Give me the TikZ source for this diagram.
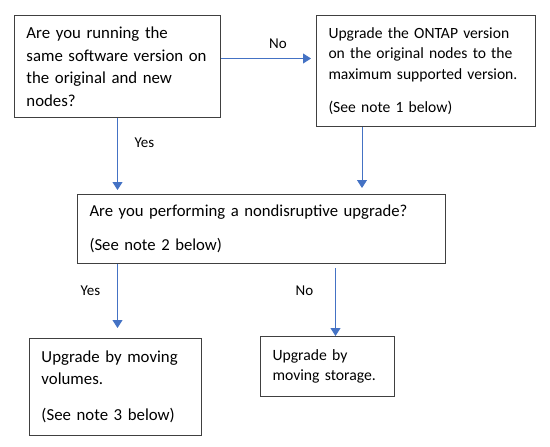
\documentclass[tikz,border=0pt]{standalone}
\usepackage{fontspec}
\setmainfont{Carlito}
\usetikzlibrary{arrows.meta, positioning}
\definecolor{flowblue}{HTML}{4472C4}
\definecolor{boxgray}{HTML}{404040}

\begin{document}
\begin{tikzpicture}[x=1pt, y=-1pt,
  box/.style={draw=boxgray, line width=1pt, rectangle, anchor=north west, align=left,
    inner xsep=12pt, inner ysep=0pt},
  flow/.style={draw=flowblue, line width=0.9pt, -{Triangle[width=10pt, length=8pt]}},
  lbl/.style={font=\fontsize{15}{18}\selectfont}]
\useasboundingbox (0,0) rectangle (550,447);

% Nodes
\node[box, text width=182pt, minimum height=102pt, font=\fontsize{16.8}{22.5}\selectfont] (Q1) at (14,15)
  {Are you running the\\ same software version on\\ the original and new\\ nodes?};
\node[box, text width=195pt, minimum height=111pt, font=\fontsize{15.6}{20.5}\selectfont] (U1) at (316,15)
  {Upgrade the ONTAP version\\ on the original nodes to the\\ maximum supported version.\\[13pt] (See note 1 below)};
\node[box, text width=344pt, minimum height=69pt, font=\fontsize{16.7}{21.5}\selectfont] (Q2) at (77,194)
  {Are you performing a nondisruptive upgrade?\\[13pt] (See note 2 below)};
\node[box, text width=148pt, minimum height=97pt, font=\fontsize{16.8}{22}\selectfont] (U2) at (29,338)
  {Upgrade by moving\\ volumes.\\[14pt] (See note 3 below)};
\node[box, text width=110pt, minimum height=60pt, font=\fontsize{15.7}{20}\selectfont] (U3) at (260,336)
  {Upgrade by\\ moving storage.};

% Connectors
\draw[flow, shorten >=5pt] ([yshift=8pt]Q1.east) -- ([yshift=8pt]Q1.east -| U1.west)
  node[lbl, pos=0.6, yshift=15pt] {No};
\draw[flow, shorten >=4pt] (Q1.south) -- (Q1.south |- Q2.north)
  node[lbl, pos=0.33, xshift=27pt] {Yes};
\draw[flow, shorten >=6pt] ([xshift=-64pt]U1.south) -- ([xshift=-64pt]U1.south |- Q2.north);
\draw[flow, shorten >=10pt] ([xshift=2pt]U2.north |- Q2.south) -- ([xshift=2pt]U2.north)
  node[lbl, pos=0.36, xshift=-27pt] {Yes};
\draw[flow, shorten <=4pt] ([xshift=8pt]U3.north |- Q2.south) -- ([xshift=8pt]U3.north)
  node[lbl, pos=0.37, xshift=-31pt] {No};

\end{tikzpicture}
\end{document}
